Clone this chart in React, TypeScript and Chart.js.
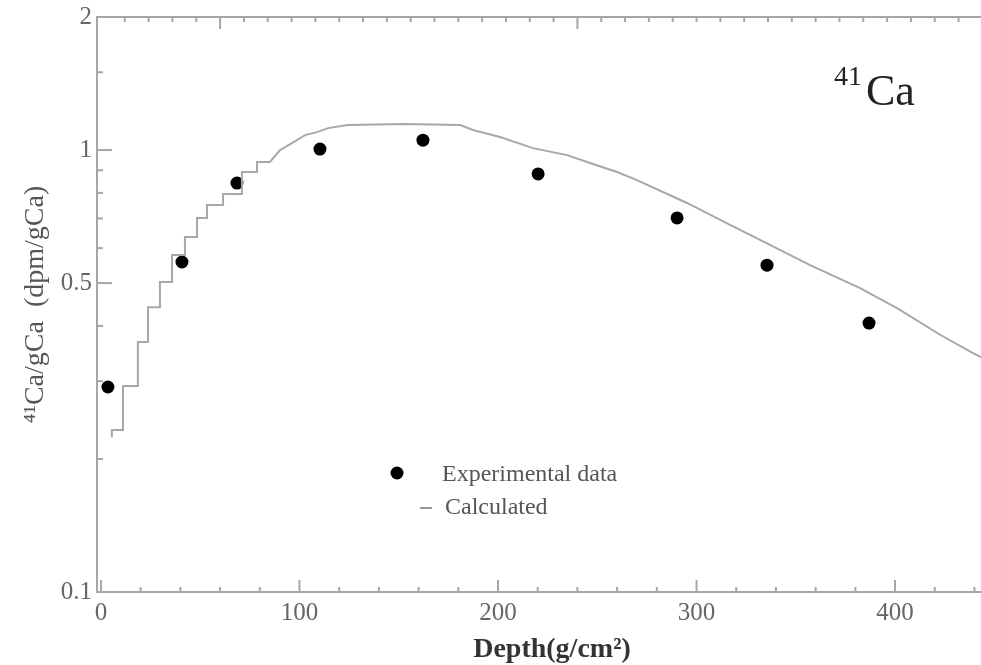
import React, { useEffect, useRef } from 'react';
import { Chart, registerables } from 'chart.js';

Chart.register(...registerables);

// Experimental data (depth in g/cm^2, 41Ca in dpm/gCa)
const expDepth = [3.5, 40.8, 68.5, 110.3, 162.2, 220.2, 290.2, 335.5, 386.9];
const expValue = [0.291, 0.558, 0.842, 1.005, 1.053, 0.883, 0.702, 0.549, 0.406];

// Calculated profile (stepped at shallow depths)
const calcDepth = [
  5.5, 5.5, 11.1, 11.1, 18.6, 18.6, 23.7, 23.7, 29.7, 29.7, 35.8, 35.8, 42.3, 42.3,
  48.4, 48.4, 53.4, 53.4, 61.5, 61.5, 71.0, 71.0, 78.6, 78.6, 85.1, 90.2, 96.2, 102.8,
  108.8, 114.4, 124.4, 153, 181, 187.4, 201, 217.6, 234.8, 246.3, 260, 270, 295.2,
  316.9, 337, 357.2, 382.4, 401, 422.7, 439.3, 446,
];
const calcValue = [
  0.224, 0.2325, 0.2325, 0.2925, 0.2925, 0.368, 0.368, 0.441, 0.441, 0.503, 0.503, 0.579,
  0.579, 0.636, 0.636, 0.702, 0.702, 0.751, 0.751, 0.795, 0.795, 0.892, 0.892, 0.94, 0.94,
  1.0, 1.037, 1.081, 1.098, 1.121, 1.139, 1.145, 1.139, 1.11, 1.07, 1.01, 0.974, 0.9345,
  0.892, 0.855, 0.759, 0.677, 0.61, 0.549, 0.487, 0.439, 0.382, 0.347, 0.335,
];

// Axis ticks
const xTickValues = [0, 100, 200, 300, 400];
const xMinorTicks = [20, 40, 60, 80, 120, 140, 160, 180, 220, 240, 260, 280, 320, 340, 360, 380, 420, 440];
const topMajorTicks = [60, 240];
const topMinorTicks = [12, 24, 36, 48, 72, 84, 96, 108, 120, 132, 144, 156, 168, 180, 192, 204, 216, 228, 252, 264, 276, 288, 300, 312, 324, 336, 348, 360, 372, 384, 396, 408, 420, 432];
const yTickValues = [0.1, 0.5, 1, 2];
const yMinorTicks = [0.2, 0.3, 0.4, 0.6, 0.7, 0.8, 0.9, 1.5];

const X_MIN = -2;
const X_MAX = 443.3;
const Y_MIN = 0.1;
const Y_MAX = 2;

const SERIF = "'Liberation Serif', 'DejaVu Serif', serif";

const decorPlugin = {
  id: 'decor',
  afterDraw(chart: any) {
    const ctx = chart.ctx as CanvasRenderingContext2D;
    const { left, right, top, bottom } = chart.chartArea;
    const xs = chart.scales.x;
    const ys = chart.scales.y;
    ctx.save();
    ctx.strokeStyle = '#a6a6a6';
    ctx.lineWidth = 2;
    // top frame line
    ctx.beginPath();
    ctx.moveTo(left, top);
    ctx.lineTo(right, top);
    ctx.stroke();

    const tick = (x1: number, y1: number, x2: number, y2: number) => {
      ctx.beginPath();
      ctx.moveTo(x1, y1);
      ctx.lineTo(x2, y2);
      ctx.stroke();
    };
    // bottom ticks (inward)
    xTickValues.forEach((v) => { const p = xs.getPixelForValue(v); tick(p, bottom, p, bottom - 12); });
    xMinorTicks.forEach((v) => { const p = xs.getPixelForValue(v); tick(p, bottom, p, bottom - 5); });
    // top ticks (inward)
    topMajorTicks.forEach((v) => { const p = xs.getPixelForValue(v); tick(p, top, p, top + 12); });
    topMinorTicks.forEach((v) => { const p = xs.getPixelForValue(v); tick(p, top, p, top + 5); });
    // left ticks (inward)
    yTickValues.forEach((v) => { const p = ys.getPixelForValue(v); tick(left, p, left + 15, p); });
    yMinorTicks.forEach((v) => { const p = ys.getPixelForValue(v); tick(left, p, left + 6, p); });

    // x axis title
    ctx.fillStyle = '#333';
    ctx.font = `bold 28px ${SERIF}`;
    ctx.textAlign = 'center';
    ctx.textBaseline = 'alphabetic';
    ctx.fillText('Depth(g/cm²)', 552, 657);

    // legend
    ctx.fillStyle = '#000';
    ctx.beginPath();
    ctx.arc(397, 473, 6.5, 0, Math.PI * 2);
    ctx.fill();
    ctx.strokeStyle = '#999';
    ctx.lineWidth = 2;
    tick(420, 508, 432, 508);
    ctx.fillStyle = '#555';
    ctx.font = `24px ${SERIF}`;
    ctx.textAlign = 'left';
    ctx.fillText('Experimental data', 442, 481);
    ctx.fillText('Calculated', 445, 514);

    // isotope label
    ctx.fillStyle = '#222';
    ctx.font = `28px ${SERIF}`;
    ctx.fillText('41', 834, 85);
    ctx.font = `44px ${SERIF}`;
    ctx.fillText('Ca', 866, 105);
    ctx.restore();
  },
};

export default function App() {
  const canvasRef = useRef<HTMLCanvasElement | null>(null);

  useEffect(() => {
    document.body.style.margin = '0';
    const canvas = canvasRef.current;
    if (!canvas) return;

    const expPoints = expDepth.map((x, i) => ({ x, y: expValue[i] }));
    const calcPoints = calcDepth.map((x, i) => ({ x, y: calcValue[i] }));

    const chart = new Chart(canvas, {
      type: 'scatter',
      data: {
        datasets: [
          {
            label: 'Calculated',
            data: calcPoints,
            showLine: true,
            borderColor: '#a8a8a8',
            borderWidth: 2,
            pointRadius: 0,
            tension: 0,
            fill: false,
          },
          {
            label: 'Experimental data',
            data: expPoints,
            showLine: false,
            pointRadius: 6.5,
            pointBackgroundColor: '#000',
            pointBorderColor: '#000',
            pointBorderWidth: 0,
          },
        ],
      },
      options: {
        responsive: false,
        animation: false,
        devicePixelRatio: 1,
        layout: { autoPadding: false, padding: { top: 17, left: 0, right: 0, bottom: 0 } },
        plugins: {
          legend: { display: false },
          tooltip: { enabled: false },
        },
        scales: {
          x: {
            type: 'linear',
            min: X_MIN,
            max: X_MAX,
            afterBuildTicks: (scale: any) => {
              scale.ticks = xTickValues.map((v) => ({ value: v }));
            },
            afterFit: (scale: any) => {
              scale.height = 73;
              scale.paddingLeft = 0;
              scale.paddingRight = 0;
            },
            grid: { display: false, drawTicks: false },
            border: { display: true, color: '#a6a6a6', width: 2 },
            ticks: {
              autoSkip: false,
              maxRotation: 0,
              padding: 6,
              color: '#666',
              font: { family: SERIF, size: 25 },
              callback: (v: any) => String(v),
            },
            title: { display: false },
          },
          y: {
            type: 'logarithmic',
            min: Y_MIN,
            max: Y_MAX,
            afterBuildTicks: (scale: any) => {
              scale.ticks = yTickValues.map((v) => ({ value: v }));
            },
            afterFit: (scale: any) => {
              scale.width = 97;
              scale.paddingTop = 0;
              scale.paddingBottom = 0;
            },
            grid: { display: false, drawTicks: false },
            border: { display: true, color: '#a6a6a6', width: 2 },
            ticks: {
              autoSkip: false,
              padding: 5,
              color: '#666',
              font: { family: SERIF, size: 25 },
              callback: (v: any) => String(v),
            },
            title: {
              display: true,
              text: '⁴¹Ca/gCa  (dpm/gCa)',
              color: '#555',
              font: { family: SERIF, size: 28 },
              padding: { top: 19, bottom: 0 },
            },
          },
        },
      },
      plugins: [decorPlugin],
    } as any);

    return () => {
      chart.destroy();
    };
  }, []);

  return (
    <div style={{ width: 981, height: 665, position: 'relative' }}>
      <canvas ref={canvasRef} width={981} height={665} />
    </div>
  );
}
